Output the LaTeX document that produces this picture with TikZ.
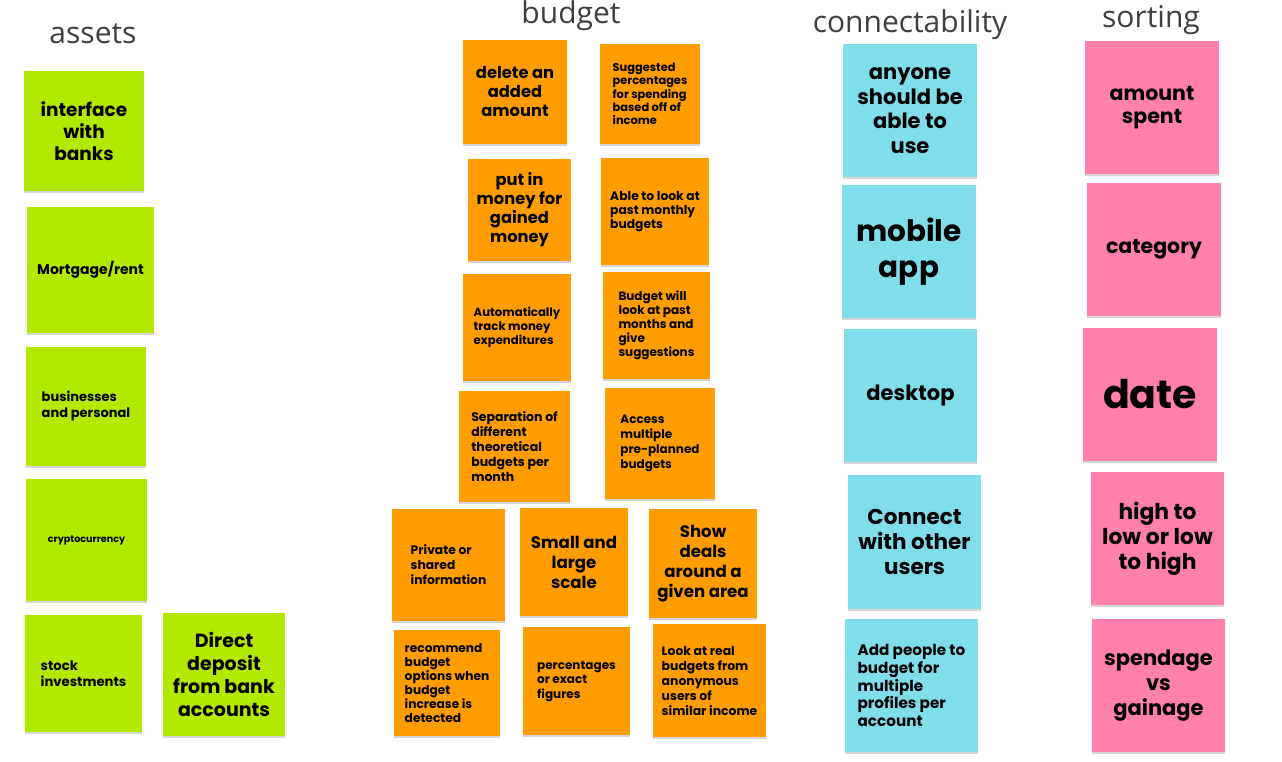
\documentclass[tikz,border=0pt]{standalone}
\usepackage{fontspec}
\setmainfont{Poppins}
\newfontfamily\titlefont{Open Sans}
\usetikzlibrary{shadows}
\definecolor{notegreen}{HTML}{B1EA00}
\definecolor{noteorange}{HTML}{FF9D00}
\definecolor{notecyan}{HTML}{80DEEA}
\definecolor{notepink}{HTML}{FF80AB}
\definecolor{titlegrey}{HTML}{3C4043}
\newcommand\fs[2]{\fontsize{#1}{#2}\selectfont\bfseries}
% #1 name, #2 style, #3 x1, #4 y1, #5 x2, #6 y2, #7 font, #8 text
\newcommand\sticky[8]{%
  \node[stickybox,#2,minimum width={#5-#3},minimum height={#6-#4},font=#7]
    (#1) at ({(#3+#5)/2},{(#4+#6)/2}) {#8};}
\tikzset{
  stickybox/.style={rectangle,inner sep=0pt,outer sep=0pt,align=center,text=black,
    drop shadow={shadow xshift=0.4pt,shadow yshift=-1.6pt,fill=black,opacity=0.16}},
  ngreen/.style={fill=notegreen},
  norange/.style={fill=noteorange},
  ncyan/.style={fill=notecyan},
  npink/.style={fill=notepink},
  lft/.style={align=left},
  coltitle/.style={anchor=base,text=titlegrey,font=\titlefont\fontsize{30}{34}\selectfont}
}
\begin{document}
\begin{tikzpicture}[x=1pt,y=-1pt]
\useasboundingbox[fill=white] (0,0) rectangle (1282,761);
% titles
\node[coltitle] (tassets) at (93,43) {assets};
\node[coltitle] (tbudget) at (571,23) {budget};
\node[coltitle] (tconn) at (910,32) {connectability};
\node[coltitle] (tsort) at (1151,27) {sorting};
% assets
\sticky{a1}{ngreen}{24}{71}{144}{191}{\fs{18.5}{22}}{interface\\with\\banks}
\sticky{a2}{ngreen}{27}{207}{154}{333}{\fs{14}{16}}{Mortgage/rent}
\sticky{a3}{ngreen,lft}{26}{347}{146}{466}{\fs{13}{16}}{businesses\\and personal}
\sticky{a4}{ngreen}{26}{479}{147}{601}{\fs{9.6}{12}}{cryptocurrency}
\sticky{a5}{ngreen,lft}{25}{615}{142}{732}{\fs{13.2}{16}}{stock\\investments}
\sticky{a6}{ngreen}{163}{613}{285}{736}{\fs{19}{23}}{Direct\\deposit\\from bank\\accounts}
% budget
\sticky{b1}{norange}{463}{40}{567}{144}{\fs{16.3}{19}}{delete an\\added\\amount}
\sticky{b2}{norange,lft}{600}{44}{700}{144}{\fs{11.4}{13.4}}{Suggested\\percentages\\for spending\\based off of\\income}
\sticky{b3}{norange}{468}{159}{571}{261}{\fs{16.3}{19}}{put in\\money for\\gained\\money}
\sticky{b4}{norange,lft}{601}{158}{709}{265}{\fs{12.3}{14}}{Able to look at\\past monthly\\budgets}
\sticky{b5}{norange,lft}{463}{274}{571}{381}{\fs{11.7}{14}}{Automatically\\track money\\expenditures}
\sticky{b6}{norange,lft}{603}{272}{710}{379}{\fs{12}{14}}{Budget will\\look at past\\months and\\give\\suggestions}
\sticky{b7}{norange,lft}{459}{391}{570}{502}{\fs{12.5}{15}}{Separation of\\different\\theoretical\\budgets per\\month}
\sticky{b8}{norange,lft}{605}{388}{715}{499}{\fs{12}{15}}{Access\\multiple\\pre-planned\\budgets}
\sticky{b9}{norange,lft}{392}{509}{505}{621}{\fs{12.3}{15}}{Private or\\shared\\information}
\sticky{b10}{norange}{520}{508}{628}{616}{\fs{16.6}{20}}{Small and\\large\\scale}
\sticky{b11}{norange}{649}{509}{757}{618}{\fs{16.6}{20}}{Show\\deals\\around a\\given area}
\sticky{b12}{norange,lft}{394}{630}{500}{736}{\fs{12.2}{14}}{recommend\\budget\\options when\\budget\\increase is\\detected}
\sticky{b13}{norange,lft}{523}{627}{630}{735}{\fs{12}{14.5}}{percentages\\or exact\\figures}
\sticky{b14}{norange,lft}{653}{624}{766}{737}{\fs{12.4}{15}}{Look at real\\budgets from\\anonymous\\users of\\similar income}
% connectability
\sticky{c1}{ncyan}{843}{44}{977}{177}{\fs{21}{24.7}}{anyone\\should be\\able to\\use}
\sticky{c2}{ncyan}{842}{185}{976}{318}{\fs{29.5}{36}}{mobile\\app}
\sticky{c3}{ncyan}{844}{329}{977}{462}{\fs{21}{24}}{desktop}
\sticky{c4}{ncyan}{848}{475}{981}{609}{\fs{21.5}{25}}{Connect\\with other\\users}
\sticky{c5}{ncyan,lft}{845}{619}{978}{752}{\fs{15.2}{17.7}}{Add people to\\budget for\\multiple\\profiles per\\account}
% sorting
\sticky{s1}{npink}{1085}{41}{1219}{174}{\fs{20.5}{23.5}}{amount\\spent}
\sticky{s2}{npink}{1087}{183}{1221}{316}{\fs{20.5}{24}}{category}
\sticky{s3}{npink}{1083}{328}{1217}{461}{\fs{39.5}{46}}{date}
\sticky{s4}{npink}{1091}{472}{1224}{605}{\fs{21.8}{25}}{high to\\low or low\\to high}
\sticky{s5}{npink}{1092}{619}{1225}{752}{\fs{21}{25}}{spendage\\vs\\gainage}
\end{tikzpicture}
\end{document}
